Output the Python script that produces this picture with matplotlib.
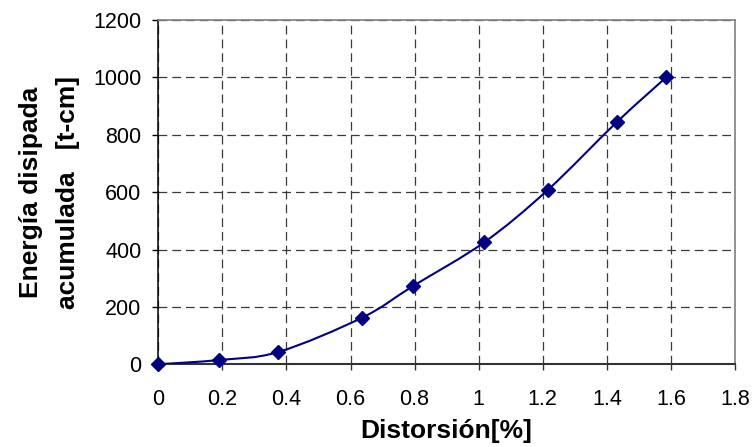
import matplotlib
matplotlib.use("Agg")
import matplotlib.pyplot as plt
import numpy as np
from matplotlib.path import Path
from matplotlib.patches import PathPatch

plt.rcParams["font.family"] = ["Liberation Sans", "DejaVu Sans"]

# datos
distorsion = [0, 0.19, 0.375, 0.637, 0.794, 1.017, 1.215, 1.431, 1.585]
energia = [0, 15, 43, 163, 272, 425, 607, 844, 1000]

x_ticks = [0, 0.2, 0.4, 0.6, 0.8, 1, 1.2, 1.4, 1.6, 1.8]
x_labels = ["0", "0.2", "0.4", "0.6", "0.8", "1", "1.2", "1.4", "1.6", "1.8"]
y_ticks = [0, 200, 400, 600, 800, 1000, 1200]

LINE_COLOR = "#000080"


def smooth_path(xs, ys):
    """Curva suavizada tipo Excel (Bezier cúbica, tensión 1/6)."""
    pts = np.column_stack([xs, ys]).astype(float)
    n = len(pts)
    verts = [pts[0]]
    codes = [Path.MOVETO]
    for i in range(n - 1):
        p_prev = pts[max(i - 1, 0)]
        p0 = pts[i]
        p1 = pts[i + 1]
        p_next = pts[min(i + 2, n - 1)]
        c1 = p0 + (p1 - p_prev) / 6.0
        c2 = p1 - (p_next - p0) / 6.0
        verts += [c1, c2, p1]
        codes += [Path.CURVE4] * 3
    return Path(verts, codes)


fig = plt.figure(figsize=(7.53, 4.47), dpi=100)
ax = fig.add_axes([0.2102, 0.185, 0.9761 - 0.2102, 0.9553 - 0.185])

ax.set_xlim(0, 1.8)
ax.set_ylim(0, 1200)

ax.add_patch(PathPatch(smooth_path(distorsion, energia), facecolor="none",
                       edgecolor=LINE_COLOR, lw=1.5, zorder=4))
ax.plot(distorsion, energia, ls="none", marker="D", ms=7, color=LINE_COLOR,
        zorder=5, clip_on=False)

ax.set_xticks(x_ticks)
ax.set_xticklabels(x_labels)
ax.set_yticks(y_ticks)

ax.grid(True, color="#3a3a3a", lw=0.9, ls=(0, (7, 4)))
ax.set_axisbelow(True)

for side in ("top", "right"):
    ax.spines[side].set_color("#808080")
    ax.spines[side].set_linewidth(1.2)
ax.spines["left"].set_color("#000000")
ax.spines["left"].set_linewidth(1.1)
ax.spines["bottom"].set_color("#333333")
ax.spines["bottom"].set_linewidth(1.5)

ax.tick_params(axis="x", direction="out", length=4.5, width=1, pad=13,
               labelsize=15.5, color="#333333")
ax.tick_params(axis="y", direction="out", length=4, width=1, pad=8,
               labelsize=15.5)

ax.set_xlabel("Distorsión[%]", fontsize=19, fontweight="bold", labelpad=7)
ax.set_ylabel("Energía disipada\nacumulada   [t-cm]", fontsize=19,
              fontweight="bold", linespacing=1.7, multialignment="center")
ax.yaxis.set_label_coords(-0.136, 0.5)

fig.savefig("out.png", dpi=100)
